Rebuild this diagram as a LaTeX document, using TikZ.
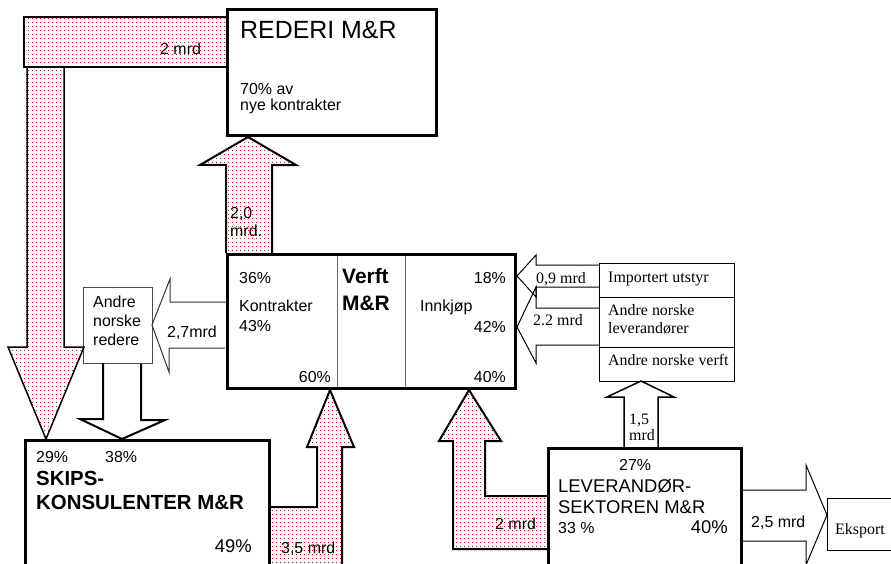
\documentclass[tikz,border=0pt]{standalone}
\usepackage{fontspec}
\setmainfont{Liberation Sans}
\newfontfamily\timesfont{Liberation Serif}
\usetikzlibrary{calc}

\tikzset{
  box/.style={draw, line width=3bp, inner sep=0pt, anchor=north west},
  smallbox/.style={draw, line width=1bp, inner sep=0pt, outer sep=0pt, anchor=north west},
  redflow/.style={draw, line width=2bp, path picture={
      \draw[red, line width=1bp, dash pattern=on 1bp off 3bp]
        \foreach \py in {2.5,6.5,...,566} {(0,\py) -- (900,\py)};}},
  whiteflow/.style={draw, line width=1bp},
  lbl/.style={inner sep=0pt, anchor=base west, align=left, font=\fontsize{16}{19}\selectfont},
  rlbl/.style={lbl, anchor=base east, align=right},
  serif/.style={lbl, font=\timesfont\fontsize{16}{18}\selectfont},
}

\begin{document}
\begin{tikzpicture}[x=1bp, y=-1bp, line join=miter]
  \useasboundingbox (0,0) rectangle (891,564);
  \clip (0,0) rectangle (891,564);

  \node[box, minimum width=209bp, minimum height=126bp] (rederi) at (226,8) {};
  \node[box, minimum width=288bp, minimum height=134bp] (verft) at (226,253) {};
  \node[box, minimum width=244bp, minimum height=160bp] (skips) at (24,439) {};
  \node[box, minimum width=193bp, minimum height=160bp] (lev) at (547,447) {};
  \node[smallbox, draw=black!70, minimum width=69bp, minimum height=76bp] (redere) at (83,287) {};
  \node[smallbox, minimum width=135bp, minimum height=34bp] (importert) at (599,263) {};
  \node[smallbox, minimum width=135bp, minimum height=50bp] (leverandorer) at (importert.south west) {};
  \node[smallbox, minimum width=135bp, minimum height=34bp] (andreverft) at (leverandorer.south west) {};
  \node[smallbox, minimum width=80bp, minimum height=52bp] (eksport) at (827,498) {};

  \draw[black!60, line width=1bp] ([shift={(111,3)}]verft.north west) -- ([shift={(111,-3)}]verft.south west);
  \draw[black!60, line width=1bp] ([shift={(179,3)}]verft.north west) -- ([shift={(179,-3)}]verft.south west);

  % pengestroemmer
  \draw[redflow, line width=1.5bp] ([yshift=-9bp]rederi.north west) -- ++(-202,0) -- ++(0,50) -- ++(202,0);
  \draw[redflow, line width=1.5bp] (27,67) -- ++(0,280) -- ++(-19,0) -- ([xshift=22bp]skips.north west)
    -- ++(38,-92) -- ++(-20,0) -- ++(0,-280);
  \draw[redflow] (verft.north west) -- ++(0,-88) -- ++(-26,0) -- ([xshift=22bp]rederi.south west)
    -- ++(48,28) -- ++(-24,0) -- ++(0,88);
  \draw[redflow] ([yshift=-68bp]skips.north east) -- ++(46,0) -- ++(0,-60) -- ++(-10,0)
    -- ([xshift=104bp]verft.south west) -- ++(24,57) -- ++(-12,0) -- ++(0,130) -- ++(-71,0);
  \draw[redflow] ([yshift=-49bp]lev.north west) -- ++(-62,0) -- ++(0,-55) -- ++(16,0)
    -- ([xshift=243bp]verft.south west) -- ++(-30,51) -- ++(14,0) -- ++(0,108) -- ++(94,0);

  \draw[whiteflow, black!80] ([yshift=-49bp]verft.north west) -- ++(-56,0) -- ++(0,-23) -- (redere.east)
    -- ++(17,47) -- ++(0,-24) -- ++(56,0);
  \draw[whiteflow, line width=2bp] ([xshift=20bp]redere.south west) -- ++(0,56) -- ++(-23,0)
    -- ([xshift=98bp]skips.north west) -- ++(43,-19) -- ++(-24,0) -- ++(0,-56);
  \draw[whiteflow, line width=1.5bp] ([xshift=77bp]lev.north west) -- ++(0,-50) -- ++(-17,0)
    -- ([xshift=42bp]andreverft.south west) -- ++(33,16) -- ++(-16,0) -- ++(0,50);
  \draw[whiteflow] ([yshift=-2bp]importert.north west) -- ++(-63,0) -- ++(0,-10)
    -- ([yshift=-23bp]verft.north east) -- ++(19,21) -- ++(0,-10) -- ++(63,0);
  \draw[whiteflow] ([yshift=-11bp]leverandorer.north west) -- ++(-63,0) -- ++(0,-21)
    -- ([yshift=-74bp]verft.north east) -- ++(19,36) -- ++(0,-18) -- ++(63,0);
  \draw[whiteflow] ([yshift=-43bp]lev.north east) -- ++(63,0) -- ++(0,-25)
    -- ([yshift=-17bp]eksport.north west) -- ++(-21,50) -- ++(0,-24) -- ++(-63,0);

  \node[lbl, font=\fontsize{25}{27}\selectfont] (rederiname) at (240,39) {REDERI M\&R};
  \node[lbl, font=\fontsize{16}{17}\selectfont] (rederishare) at (240,111) {70\% av\\nye kontrakter};
  \node[lbl] (bandflow) at (160,55) {2 mrd};
  \node[lbl] (rederiflow) at (230,237) {2,0\\mrd.};

  \node[lbl] (k36) at (239,283) {36\%};
  \node[lbl] (kontrakter) at (239,311) {Kontrakter};
  \node[lbl] (k43) at (239,331) {43\%};
  \node[rlbl] (k60) at (331,382) {60\%};
  \node[lbl, font=\bfseries\fontsize{21}{27}\selectfont] (verftname) at (342,310) {Verft\\M\&R};
  \node[lbl] (innkjop) at (420,311) {Innkjøp};
  \node[rlbl] (i18) at (506,283) {18\%};
  \node[rlbl] (i42) at (506,332) {42\%};
  \node[rlbl] (i40) at (506,382) {40\%};

  \node[lbl] (rederename) at (93,345) {Andre\\norske\\redere};
  \node[lbl] (redereflow) at (167,337) {2,7mrd};

  \node[lbl] (s29) at (36,462) {29\%};
  \node[lbl] (s38) at (105,462) {38\%};
  \node[lbl, font=\bfseries\fontsize{20.5}{24}\selectfont] (skipsname) at (36,509) {SKIPS-\\KONSULENTER M\&R};
  \node[rlbl, font=\fontsize{18.5}{20}\selectfont] (s49) at (252,552) {49\%};
  \node[lbl] (skipsflow) at (281,553) {3,5 mrd};

  \node[serif] (impflow) at (536,283) {0,9 mrd};
  \node[serif] (levflow) at (533,325) {2.2 mrd};
  \node[serif] (imptext) at (608,282) {Importert utstyr};
  \node[serif] (levtext) at (608,333) {Andre norske\\leverandører};
  \node[serif] (verfttext) at (608,365) {Andre norske verft};
  \node[serif, font=\timesfont\fontsize{16}{16}\selectfont] (verftflow) at (629,440) {1,5\\mrd};

  \node[lbl] (l27) at (619,470) {27\%};
  \node[lbl, font=\fontsize{18.5}{21}\selectfont] (levname) at (558,513) {LEVERANDØR-\\SEKTOREN M\&R};
  \node[lbl] (l33) at (558,533) {33 \%};
  \node[rlbl, font=\fontsize{18.5}{20}\selectfont] (l40) at (728,533) {40\%};
  \node[lbl] (levflow2) at (495,529) {2 mrd};
  \node[lbl] (eksportflow) at (751,527) {2,5 mrd};
  \node[serif] (eksporttext) at (835,534) {Eksport};
\end{tikzpicture}
\end{document}
